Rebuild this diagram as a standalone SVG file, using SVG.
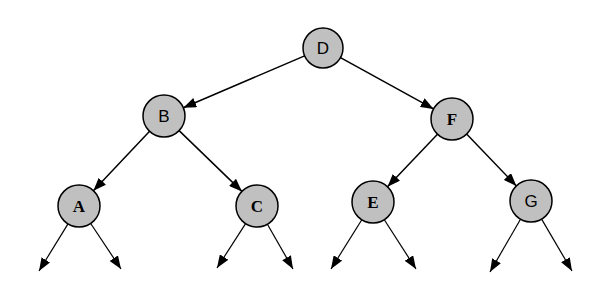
<svg xmlns="http://www.w3.org/2000/svg" width="599" height="301" viewBox="0 0 599 301">
<style>
.n{fill:#c0c0c0;stroke:#000;stroke-width:1.5}
.e{stroke:#000;stroke-width:1.5;fill:none;marker-end:url(#ah)}
.l{stroke:#000;stroke-width:1.2;fill:none;marker-end:url(#ah)}
.t{font-size:17px;text-anchor:middle;dominant-baseline:central;fill:#000}
.s{font-family:"Liberation Sans",Arial,sans-serif}
.m{font-family:"Liberation Serif","Times New Roman",serif;font-weight:bold}
</style>
<defs>
<marker id="ah" markerUnits="userSpaceOnUse" markerWidth="13" markerHeight="10" refX="13" refY="5" orient="auto">
<path d="M0,0 L13,5 L0,10 z" fill="#000"/>
</marker>
</defs>
<rect width="599" height="301" fill="#fff"/>
<g id="connectors">
<line class="e" x1="304.6" y1="55.9" x2="183.3" y2="107.7"/>
<line class="e" x1="340.5" y1="57.6" x2="433.6" y2="108.9"/>
<line class="e" x1="149.6" y1="131.3" x2="93.4" y2="190.7"/>
<line class="e" x1="179.1" y1="130.6" x2="241.9" y2="191.4"/>
<line class="e" x1="437.5" y1="134.2" x2="387.5" y2="186.8"/>
<line class="e" x1="466.6" y1="134.1" x2="516.4" y2="185.9"/>
<line class="l" x1="68" y1="223.9" x2="39" y2="271"/>
<line class="l" x1="90.7" y1="223.5" x2="121" y2="269"/>
<line class="l" x1="245.6" y1="223.6" x2="217" y2="268"/>
<line class="l" x1="267.4" y1="224.2" x2="293" y2="269"/>
<line class="l" x1="361.8" y1="219.8" x2="331" y2="269"/>
<line class="l" x1="384.3" y1="219.7" x2="416" y2="269"/>
<line class="l" x1="520.5" y1="219.2" x2="490" y2="272"/>
<line class="l" x1="541.6" y1="219.1" x2="572" y2="271"/>
</g>
<g id="D"><circle class="n" cx="323" cy="48" r="20"/><text class="t s" x="323" y="48">D</text></g>
<g id="B"><circle class="n" cx="164" cy="116" r="21"/><text class="t s" x="164" y="116">B</text></g>
<g id="F"><circle class="n" cx="452" cy="119" r="21"/><text class="t m" x="452" y="119">F</text></g>
<g id="A"><circle class="n" cx="79" cy="206" r="21"/><text class="t m" x="79" y="206">A</text></g>
<g id="C"><circle class="n" cx="257" cy="206" r="21"/><text class="t m" x="257" y="206">C</text></g>
<g id="E"><circle class="n" cx="373" cy="202" r="21"/><text class="t m" x="373" y="202">E</text></g>
<g id="G"><circle class="n" cx="531" cy="201" r="21"/><text class="t s" x="531" y="201">G</text></g>
</svg>
